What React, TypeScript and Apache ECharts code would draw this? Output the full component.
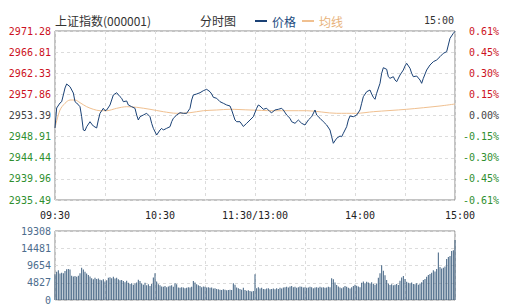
import React, { useEffect, useRef } from 'react';
import * as echarts from 'echarts';

// ---------- data ----------
const priceLabels = ['2935.49', '2939.96', '2944.44', '2948.91', '2953.39', '2957.86', '2962.33', '2966.81', '2971.28'];
const pctLabels = ['-0.61%', '-0.45%', '-0.30%', '-0.15%', '0.00%', '0.15%', '0.30%', '0.45%', '0.61%'];
const timeTicks = [0, 60, 120, 180, 240];
const timeLabels = ['09:30', '10:30', '11:30/13:00', '14:00', '15:00'];

const PRICE_MIN = 2935.49;
const PRICE_MAX = 2971.28;
const VOL_MAX = 19308;
const VOL_STEP = 4827;

// [minute since 09:30 (trading minutes), price]
const pricePoints: [number, number][] = [
  [0, 2950.74], [1, 2954.97], [3, 2956.03], [4, 2956.31], [5, 2957.73], [6, 2959.21], [7, 2960.06], [9, 2959.48],
  [11, 2958.15], [12, 2956.31], [13, 2956.03], [15, 2955.25], [16, 2953.13], [17, 2950.31], [18, 2950.17], [19, 2951.01],
  [21, 2952.07], [22, 2951.58], [23, 2951.16], [25, 2950.74], [26, 2952.43], [27, 2953.85], [29, 2954.91], [30, 2954.40],
  [31, 2954.55], [33, 2955.61], [34, 2956.67], [35, 2957.73], [37, 2958.21], [39, 2957.37], [40, 2957.03], [41, 2956.31],
  [43, 2956.46], [44, 2955.61], [46, 2955.25], [48, 2954.91], [49, 2953.49], [50, 2952.43], [51, 2953.13], [53, 2953.49],
  [55, 2953.85], [57, 2953.13], [58, 2951.73], [59, 2950.67], [61, 2949.25], [63, 2950.31], [64, 2950.67], [65, 2950.31],
  [67, 2950.67], [69, 2951.01], [70, 2952.07], [71, 2952.79], [73, 2953.49], [75, 2953.98], [77, 2953.85], [79, 2953.85],
  [81, 2954.91], [82, 2956.67], [83, 2957.73], [85, 2957.94], [87, 2958.21], [89, 2958.64], [91, 2958.93], [93, 2958.42],
  [94, 2957.94], [95, 2957.24], [97, 2957.03], [98, 2956.67], [99, 2956.31], [101, 2955.97], [103, 2955.61], [105, 2955.40],
  [106, 2954.55], [107, 2953.49], [108, 2952.43], [109, 2952.07], [111, 2952.07], [113, 2951.06], [115, 2951.73], [117, 2952.43],
  [119, 2953.13], [121, 2954.91], [122, 2955.61], [123, 2955.40], [125, 2954.70], [127, 2954.91], [129, 2954.19], [130, 2953.98],
  [132, 2954.55], [134, 2954.70], [136, 2954.91], [137, 2954.55], [139, 2953.49], [141, 2952.79], [142, 2952.07], [144, 2951.73],
  [146, 2952.43], [148, 2951.73], [150, 2951.37], [152, 2952.43], [154, 2953.13], [156, 2954.55], [157, 2953.49], [159, 2952.79],
  [161, 2952.07], [163, 2951.37], [165, 2950.31], [166, 2948.89], [167, 2947.50], [169, 2948.56], [171, 2949.04], [172, 2948.89],
  [173, 2949.61], [175, 2951.01], [176, 2952.43], [177, 2953.28], [179, 2953.13], [181, 2953.49], [183, 2954.55], [184, 2955.97],
  [185, 2957.37], [187, 2958.42], [189, 2958.78], [190, 2957.94], [191, 2957.24], [192, 2956.82], [193, 2958.09], [195, 2960.20],
  [196, 2962.32], [197, 2963.51], [199, 2963.17], [200, 2961.60], [201, 2961.26], [203, 2961.60], [204, 2960.90], [205, 2960.54],
  [207, 2961.96], [209, 2963.02], [210, 2963.87], [211, 2964.44], [213, 2963.38], [214, 2962.32], [215, 2961.60], [217, 2961.75],
  [219, 2960.90], [220, 2960.20], [221, 2961.26], [223, 2963.02], [225, 2964.08], [227, 2964.78], [229, 2965.14], [231, 2965.84],
  [233, 2966.56], [235, 2966.90], [236, 2968.32], [237, 2969.73], [239, 2970.79], [240, 2971.20],
];

const avgPoints: [number, number][] = [
  [0, 2950.80], [3, 2954.55], [6, 2955.97], [9, 2956.67], [12, 2956.67], [15, 2956.10], [19, 2955.25], [23, 2954.70],
  [27, 2954.40], [31, 2954.40], [37, 2954.91], [43, 2955.25], [49, 2955.12], [57, 2954.70], [65, 2954.19], [73, 2953.85],
  [81, 2953.98], [89, 2954.40], [97, 2954.55], [105, 2954.70], [117, 2954.55], [131, 2954.40], [151, 2954.40], [169, 2953.85],
  [181, 2953.85], [191, 2954.19], [211, 2954.70], [231, 2955.40], [240, 2955.82],
];

// volume per minute, index = minute 0..240
const volumeValues = [
  7200, 7900, 8300, 7400, 7600, 7500, 8100, 8600, 8700, 8500, 6800,
  6600, 6700, 6500, 6800, 7500,
  9000, 8500,
  7900, 7400, 7000, 6600,
  6100, 5800, 6200, 5900,
  6000, 5700, 5500, 5800,
  5200, 5500,
  6200, 6400, 6100, 6500, 6000, 6200,
  5800, 5500, 5600, 5300, 5000, 5400,
  4800, 4500, 4700, 4300, 4600, 4900,
  5700, 5300,
  4600, 4300, 4800, 4100, 4400, 3900, 4500,
  6300, 7500,
  5200, 4400, 4100, 3800,
  3700, 3900, 3600, 3800, 4000, 4100, 3700,
  4700, 4400,
  3500, 3400, 3600, 3500, 3300, 3400, 3600, 3500, 3700,
  5300, 4900,
  4400, 4100, 3900, 3600, 3800, 3700, 3500,
  3600, 3400, 3500, 3200, 3300, 3100, 3000, 2900, 2800, 3000, 2900, 2700, 2800, 2900, 2800,
  4700, 4300, 3500,
  3300, 3100, 2900, 3400, 2800, 2600, 2700, 2500,
  2400, 2500,
  7200,
  3300, 3600, 3200, 3400, 3100, 3000, 3200, 3300, 3000, 3100, 3200, 3000, 3300, 3100, 3400, 3200, 3500,
  3600, 3700, 3500, 3800, 3900, 3600, 3700, 3400, 3600, 3800, 3700, 3500, 3600, 3400,
  3500, 3700, 3600, 3300, 3500, 3600, 3400, 3700, 3500, 3600, 3400, 3500, 3700, 3600,
  6100, 5800, 4900,
  4200, 3800, 3500, 3300, 3600, 3900, 3700,
  3400, 3200, 3600, 3900, 4300, 4000, 3800, 3600,
  4800, 5200, 4700, 5100, 4900, 4600, 5000, 4500, 4300, 4600,
  6200, 7500,
  9700,
  8200, 6900, 5600,
  4600, 4200, 4400, 4100, 4300, 4500, 4200,
  5400, 6300, 6700, 5900,
  5100, 4800, 4600, 4900, 4500, 4400, 4700, 4300, 4600,
  5000, 5600, 5900, 6500, 7000, 7300,
  7600, 8300, 8000, 8700,
  13300,
  9200, 8800, 9000, 9400,
  11500, 12000, 12300,
  13700,
  13900, 16800,
];

// ---------- styles ----------
const RED = '#cc1122';
const GREEN = '#2f8f2f';
const GRAY = '#444444';
const MONO = "'DejaVu Sans Mono', 'Liberation Mono', monospace";
const CJK = "'Noto Sans CJK SC', sans-serif";
const PRICE_COLOR = '#1a4175';
const AVG_COLOR = '#f0c090';
const BAR_COLOR = '#3f6080';

export default function App() {
  const ref = useRef<HTMLDivElement>(null);

  useEffect(() => {
    if (!ref.current) return;
    const chart = echarts.init(ref.current, null, { renderer: 'svg' });
    const dashed = { show: true, lineStyle: { color: '#dcdcdc', type: [3, 3] as number[], width: 1 } };
    const colorOf = (v: any) => {
      const n = Number(v);
      return n > 0 ? RED : n < 0 ? GREEN : GRAY;
    };

    const option: any = {
      animation: false,
      grid: [
        { left: 55, right: 50, top: 31, height: 169, show: true, borderColor: '#888', borderWidth: 1, backgroundColor: 'transparent' },
        { left: 55, right: 50, top: 231, height: 69, show: true, borderColor: '#888', borderWidth: 1, backgroundColor: 'transparent' },
      ],
      legend: {
        left: 255,
        top: 15,
        padding: 0,
        icon: 'rect',
        itemWidth: 12,
        itemHeight: 2,
        itemGap: 6,
        textStyle: { fontFamily: CJK, fontSize: 12 },
        data: [
          { name: '价格', textStyle: { color: '#1d4b80' } },
          { name: '均线', textStyle: { color: '#e8b27a' } },
        ],
      },
      xAxis: [
        {
          type: 'value', gridIndex: 0, min: 0, max: 240, interval: 30,
          axisLine: { show: false }, axisTick: { show: false },
          splitLine: dashed,
          axisLabel: {
            margin: 10,
            fontFamily: MONO,
            fontSize: 10,
            color: '#222',
            formatter: (v: number) => {
              const i = timeTicks.indexOf(Math.round(v));
              if (i < 0) return '';
              return i === 0 || i === 2 ? timeLabels[i] : '{s|' + timeLabels[i] + '}';
            },
            rich: { s: { padding: [0, 0, 0, 10], fontFamily: MONO, fontSize: 10, color: '#222' } },
          },
        },
        {
          type: 'value', gridIndex: 1, min: 0, max: 240, interval: 30,
          axisLine: { show: false }, axisTick: { show: false }, axisLabel: { show: false },
          splitLine: dashed,
        },
      ],
      yAxis: [
        {
          type: 'value', gridIndex: 0, position: 'left', min: -4, max: 4, interval: 1,
          axisLine: { show: false }, axisTick: { show: false },
          splitLine: dashed,
          axisLabel: {
            margin: 4, fontFamily: MONO, fontSize: 10,
            formatter: (v: number) => priceLabels[Math.round(v) + 4],
            color: colorOf,
          },
        },
        {
          type: 'value', gridIndex: 0, position: 'right', min: -4, max: 4, interval: 1,
          axisLine: { show: false }, axisTick: { show: false }, splitLine: { show: false },
          axisLabel: {
            margin: 44, align: 'right', fontFamily: MONO, fontSize: 10,
            formatter: (v: number) => pctLabels[Math.round(v) + 4],
            color: colorOf,
          },
        },
        {
          type: 'value', gridIndex: 0, min: PRICE_MIN, max: PRICE_MAX, show: false,
          splitLine: { show: false },
        },
        {
          type: 'value', gridIndex: 1, min: 0, max: VOL_MAX, interval: VOL_STEP,
          axisLine: { show: false }, axisTick: { show: false },
          splitLine: dashed,
          axisLabel: {
            margin: 4, fontFamily: MONO, fontSize: 10, color: '#4d6d8e',
            formatter: (v: number) => String(Math.round(v)),
          },
        },
      ],
      series: [
        {
          name: '价格', type: 'line', xAxisIndex: 0, yAxisIndex: 2,
          data: pricePoints, showSymbol: false, color: PRICE_COLOR,
          lineStyle: { color: PRICE_COLOR, width: 1 }, z: 3,
        },
        {
          name: '均线', type: 'line', xAxisIndex: 0, yAxisIndex: 2,
          data: avgPoints, showSymbol: false, smooth: 0.3, color: AVG_COLOR,
          lineStyle: { color: AVG_COLOR, width: 1 }, z: 2,
        },
        {
          name: '成交量', type: 'bar', xAxisIndex: 1, yAxisIndex: 3,
          data: volumeValues.map((v, i) => [i, v]),
          barWidth: 1, itemStyle: { color: BAR_COLOR },
        },
      ],
      graphic: [
        { type: 'text', left: 55, top: 14, style: { text: '上证指数(000001)', font: `12px ${CJK}`, fill: '#333' } },
        { type: 'text', left: 200, top: 14, style: { text: '分时图', font: `12px ${CJK}`, fill: '#333' } },
        { type: 'text', right: 51, top: 15, style: { text: '15:00', font: `10px ${MONO}`, fill: '#333' } },
      ],
    };

    chart.setOption(option);
    return () => chart.dispose();
  }, []);

  return (
    <div
      ref={ref}
      style={{ position: 'fixed', left: 0, top: 0, width: 505, height: 306, background: '#fff' }}
    />
  );
}
